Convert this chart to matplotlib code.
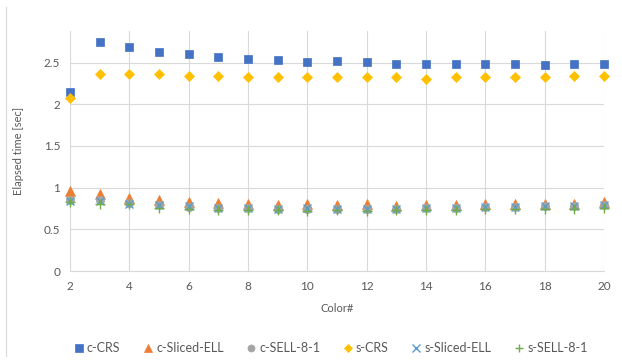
import matplotlib
matplotlib.use("Agg")
import matplotlib.pyplot as plt
from matplotlib.lines import Line2D

plt.rcParams['font.family'] = ['Lato', 'DejaVu Sans']

# Data
colors_num = list(range(2, 21))
c_crs = [2.15, 2.745, 2.69, 2.63, 2.60, 2.57, 2.545, 2.53, 2.505, 2.52,
         2.505, 2.49, 2.49, 2.49, 2.48, 2.48, 2.47, 2.48, 2.48]
c_sliced_ell = [0.96, 0.93, 0.88, 0.85, 0.83, 0.82, 0.81, 0.79, 0.80, 0.79,
                0.80, 0.78, 0.79, 0.79, 0.81, 0.80, 0.81, 0.81, 0.83]
c_sell = [0.85, 0.85, 0.82, 0.79, 0.77, 0.76, 0.76, 0.75, 0.75, 0.75,
          0.75, 0.75, 0.76, 0.76, 0.77, 0.77, 0.78, 0.78, 0.79]
s_crs = [2.08, 2.36, 2.37, 2.37, 2.34, 2.34, 2.33, 2.33, 2.33, 2.33,
         2.33, 2.33, 2.31, 2.33, 2.33, 2.33, 2.33, 2.34, 2.34]
s_sliced_ell = [0.84, 0.84, 0.81, 0.79, 0.78, 0.76, 0.76, 0.75, 0.76, 0.75,
                0.75, 0.75, 0.76, 0.76, 0.77, 0.77, 0.78, 0.78, 0.79]
s_sell = [0.83, 0.81, 0.80, 0.76, 0.74, 0.73, 0.73, 0.73, 0.72, 0.73,
          0.72, 0.73, 0.73, 0.73, 0.74, 0.74, 0.75, 0.75, 0.76]

series = [
    ("c-CRS", c_crs, "s", "#4472C4", 6),
    ("c-Sliced-ELL", c_sliced_ell, "^", "#ED7D31", 6.5),
    ("c-SELL-8-1", c_sell, "o", "#A5A5A5", 6),
    ("s-CRS", s_crs, "D", "#FFC000", 5),
    ("s-Sliced-ELL", s_sliced_ell, "x", "#5B9BD5", 6),
    ("s-SELL-8-1", s_sell, "+", "#70AD47", 7),
]

fig = plt.figure(figsize=(6.22, 3.63), dpi=100)
ax = fig.add_axes([70 / 622, 1 - 271 / 363, (604 - 70) / 622, (271 - 31) / 363])

for name, vals, m, c, ms in series:
    ax.plot(colors_num, vals, linestyle="none", marker=m, color=c, clip_on=False,
            markersize=ms, markeredgewidth=1.0 if m in "x+" else 0.5, label=name)

ax.set_xlim(2, 20)
ax.set_ylim(0, 2.88)
ax.set_xticks(range(2, 21, 2))
ax.set_yticks([0, 0.5, 1, 1.5, 2, 2.5])
ax.set_yticklabels(["0", "0.5", "1", "1.5", "2", "2.5"])
ax.grid(True, color="#D9D9D9", linewidth=0.8)
ax.set_axisbelow(True)
for s in ["top", "right", "left"]:
    ax.spines[s].set_visible(False)
ax.spines["bottom"].set_color("#D9D9D9")
ax.tick_params(length=0, labelsize=8.5, labelcolor="#595959", pad=7)

ax.set_xlabel("Color#", fontsize=8, color="#595959", labelpad=8)
ax.set_ylabel("Elapsed time [sec]", fontsize=8, color="#595959", labelpad=14)

# chart border on the left
fig.add_artist(Line2D([6 / 622, 6 / 622], [0.02, 1 - 7 / 363],
                      color="#D9D9D9", linewidth=0.8))

fig.legend(loc="center", bbox_to_anchor=(330 / 622, 1 - 348 / 363), ncol=6,
           frameon=False, fontsize=9, handletextpad=0.15, columnspacing=1.7,
           handlelength=1.0, markerscale=0.85, labelcolor="#595959")

fig.savefig("out.png", dpi=100)
